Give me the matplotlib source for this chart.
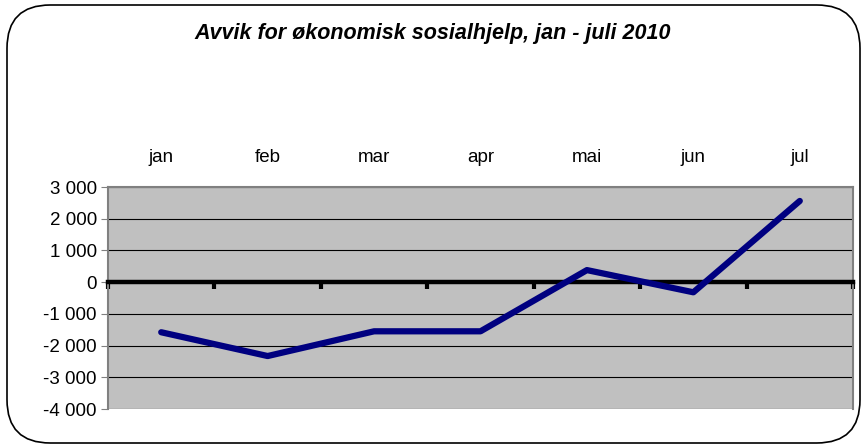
import numpy as np
import matplotlib.pyplot as plt
from matplotlib.patches import FancyBboxPatch
from matplotlib.ticker import FuncFormatter

months = ['jan', 'feb', 'mar', 'apr', 'mai', 'jun', 'jul']
avvik = [-1580, -2330, -1550, -1550, 380, -320, 2560]
yticks = [-4000, -3000, -2000, -1000, 0, 1000, 2000, 3000]

plt.rcParams['font.family'] = ['Liberation Sans', 'DejaVu Sans']

fig = plt.figure(figsize=(8.66, 4.48), dpi=100)

# rounded frame round the whole chart
frame = FancyBboxPatch((7 / 866, 5 / 448), 853 / 866, 438 / 448,
                       boxstyle='round,pad=0,rounding_size=0.05',
                       transform=fig.transFigure, fill=False,
                       edgecolor='black', linewidth=1.2, mutation_aspect=866 / 448)
fig.patches.append(frame)

fig.text(0.5, 1 - 34 / 448, 'Avvik for økonomisk sosialhjelp, jan - juli 2010',
         ha='center', va='center', fontsize=15.5, fontweight='bold', fontstyle='italic')

ax = fig.add_axes([108 / 866, 1 - 409 / 448, 745 / 866, 222 / 448])
ax.set_facecolor('#c0c0c0')

x = np.arange(len(months)) + 0.5
ax.plot(x, avvik, color='#000080', linewidth=4.5, solid_capstyle='round',
        solid_joinstyle='round', zorder=4)

ax.set_xlim(0, len(months))
ax.set_ylim(-4000, 3000)
ax.set_yticks(yticks)
ax.yaxis.set_major_formatter(FuncFormatter(lambda v, p: f'{int(v):,}'.replace(',', ' ')))
ax.grid(axis='y', color='black', linewidth=0.8)
ax.set_axisbelow(True)

for s in ['left', 'right', 'top']:
    ax.spines[s].set_color('#808080')
    ax.spines[s].set_linewidth(1.5)

# category axis crosses at zero
ax.spines['bottom'].set_position(('data', 0))
ax.spines['bottom'].set_linewidth(3.2)
ax.spines['bottom'].set_zorder(3)
ax.set_xticks(np.arange(len(months) + 1))
ax.set_xticklabels([])
ax.tick_params(axis='x', which='major', direction='out', length=5, width=3,
               color='black', bottom=True, top=False)
ax.set_xticks(x, minor=True)
ax.set_xticklabels(months, minor=True)
ax.tick_params(axis='x', which='minor', length=0, bottom=False, top=False,
               labelbottom=False, labeltop=True, pad=15, labelsize=13.5)
ax.tick_params(axis='y', direction='out', length=5, color='#808080', labelsize=13.5, pad=3)

fig.savefig('out.png', dpi=100)
